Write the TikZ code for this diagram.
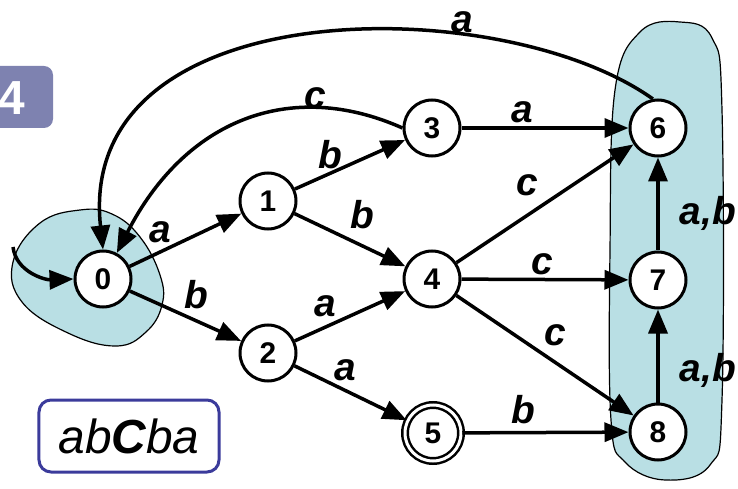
\documentclass[tikz,border=0pt]{standalone}
\usepackage{fontspec}
\setmainfont{Liberation Sans}
\usetikzlibrary{arrows.meta}
\definecolor{blobfill}{HTML}{B9DFE4}
\definecolor{tagfill}{HTML}{7E82B0}
\definecolor{wordframe}{HTML}{3B3B9B}
\begin{document}
\begin{tikzpicture}[x=1bp,y=-1bp,
  state/.style={circle, draw, line width=3bp, fill=white, minimum size=56bp,
    inner sep=0pt, font=\fontsize{30}{30}\selectfont\bfseries},
  accept/.style={state, double, double distance=3bp, line width=2.5bp},
  edge/.style={line width=3.5bp, -{Triangle[length=24bp,width=19bp]}},
  lab/.style={font=\fontsize{39}{39}\selectfont\bfseries\itshape, inner sep=0pt},
  blob/.style={fill=blobfill, draw=black, line width=1.2bp}]
\useasboundingbox (0,0) rectangle (738,489);

% slide tag
\node[fill=tagfill, rounded corners=9bp, minimum width=80bp, minimum height=62bp,
      inner sep=0pt] (tag) at (13,97) {};
\node[text=white, font=\fontsize{48}{48}\selectfont\bfseries] (tagnum) at (12,98) {4};

% input word
\node[draw=wordframe, line width=3bp, rounded corners=12bp, minimum width=180bp,
      minimum height=72bp, inner sep=0pt, font=\fontsize{48}{48}\selectfont\itshape]
      (word) at (129,436) {ab\textbf{C}ba};

% highlighted state groups
\draw[blob] plot[smooth cycle, tension=0.7] coordinates {
  (13,262) (40,223) (80,210) (112,214) (140,237) (160,275) (162,305)
  (146,332) (116,346) (68,333) (22,302)};
\draw[blob] plot[smooth cycle, tension=0.65] coordinates {
  (610,250) (615,90) (640,32) (680,22) (712,38) (722,110) (722,400)
  (710,465) (665,480) (625,462) (611,420)};

% states
\node[state] (n0) at (103,279) {0};
\node[state] (n1) at (268,201) {1};
\node[state] (n2) at (268,353) {2};
\node[state] (n3) at (432,128) {3};
\node[state] (n4) at (432,279) {4};
\node[accept] (n5) at (433,433) {5};
\node[state] (n6) at (658,128) {6};
\node[state] (n7) at (658,280) {7};
\node[state] (n8) at (658,432) {8};

% start arrow
\coordinate (start) at (13,247);
\draw[edge] (start) .. controls (16,272) and (45,280) .. (n0.west);

% transitions
\draw[edge] (n0) -- (n1);
\draw[edge] (n0) -- (n2);
\draw[edge] (n1) -- (n3);
\draw[edge] (n1) -- (n4);
\draw[edge] (n2) -- (n4);
\draw[edge] (n2) -- (n5);
\draw[edge] (n3) -- (n6);
\draw[edge] (n4) -- (n6);
\draw[edge] (n4) -- (n7);
\draw[edge] (n4) -- (n8);
\draw[edge] (n5) -- (n8);
\draw[edge] (n7) -- (n6);
\draw[edge] (n8) -- (n7);
\draw[edge] (n3.west) .. controls (290,78) and (185,120) .. (n0.62);
\draw[edge] (n6.100) .. controls (500,-10) and (75,-10) .. (n0.north);

% transition labels
\node[lab] (l01) at (160,232) {a};
\node[lab] (l02) at (196,295) {b};
\node[lab] (l13) at (330,155) {b};
\node[lab] (l14) at (362,215) {b};
\node[lab] (l24) at (325,306) {a};
\node[lab] (l25) at (345,370) {a};
\node[lab] (l30) at (315,98) {c};
\node[lab] (l60) at (462,22) {a};
\node[lab] (l36) at (522,112) {a};
\node[lab] (l46) at (527,185) {c};
\node[lab] (l47) at (542,264) {c};
\node[lab] (l48) at (555,335) {c};
\node[lab] (l58) at (523,410) {b};
\node[lab] (l76) at (708,213) {a,b};
\node[lab] (l87) at (708,370) {a,b};
\end{tikzpicture}
\end{document}
